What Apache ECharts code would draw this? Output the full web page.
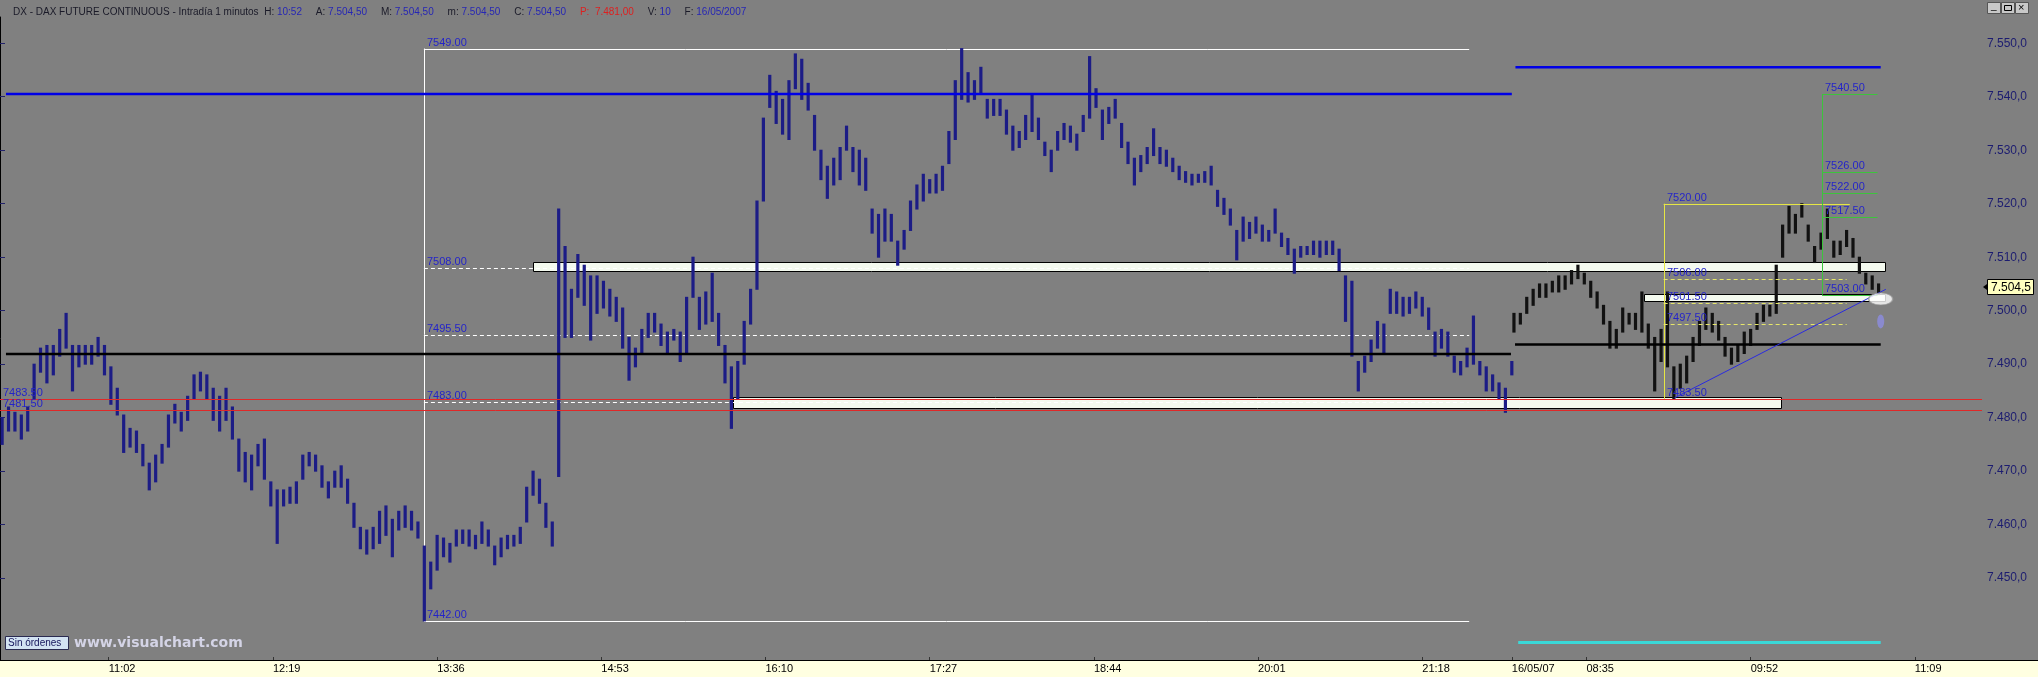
<!DOCTYPE html>
<html>
<head>
<meta charset="utf-8">
<script src="https://cdn.jsdelivr.net/npm/echarts@6/dist/echarts.min.js"></script>
<style>
    html, body { margin: 0; padding: 0; background: #808080; }
    #strip { position: absolute; left: 0; top: 660px; width: 2038px; height: 17px; background: #ffffe1; border-top: 1px solid #000; box-sizing: border-box; }
    #chart_main { position: absolute; left: 0; top: 0; width: 2038px; height: 677px; }
</style>
</head>
<body>
<div id="strip"></div>
<div id="chart_main"></div>
<script>
// x = minute index of the session (10:11 = 0, day 2 opens at 709), bars aggregated per 3 minutes
var day1Start = 0;
var day2Start = 709;

var xTickIndex = [51, 128, 205, 282, 359, 436, 513, 590, 667, 709, 744, 821, 898];
var xTickLabels = ['11:02', '12:19', '13:36', '14:53', '16:10', '17:27', '18:44', '20:01', '21:18', '16/05/07', '08:35', '09:52', '11:09'];
var yTickValues = [7450, 7460, 7470, 7480, 7490, 7500, 7510, 7520, 7530, 7540, 7550];

var day1High = [
    7480, 7482, 7481, 7480.5, 7482, 7490, 7493, 7493.5, 7493.5, 7496.5,
    7499.5, 7493.5, 7493.5, 7493.5, 7493.5, 7495, 7493.5, 7489.5, 7485.5, 7480.5,
    7478, 7477.5, 7475, 7471.5, 7473, 7475, 7480.5, 7482.5, 7481, 7484,
    7488, 7488.5, 7488, 7485.5, 7484, 7485.5, 7482, 7476, 7473.5, 7473,
    7475, 7476, 7468, 7466.5, 7466.5, 7467, 7468, 7473, 7473.5, 7473,
    7471, 7468, 7470, 7471, 7468.5, 7464, 7459.5, 7459, 7459.5, 7462.5,
    7463.5, 7461, 7462.5, 7463.5, 7462.5, 7460.5, 7456, 7453, 7458, 7457.5,
    7456.5, 7459, 7459, 7459, 7458, 7460.5, 7459, 7456, 7457.5, 7458,
    7458, 7459.5, 7467, 7470, 7468.5, 7464, 7460.5, 7519, 7512, 7504,
    7510.5, 7508.5, 7506.5, 7506.5, 7505.5, 7504, 7502.5, 7500.5, 7495, 7493,
    7496.5, 7499.5, 7499.5, 7497.5, 7496, 7496.5, 7496, 7502.5, 7510, 7502.5,
    7503.5, 7507, 7499.5, 7493.5, 7489.5, 7490.5, 7498, 7504, 7520.5, 7536,
    7544, 7541, 7539.5, 7543, 7548, 7547, 7542.5, 7536.5, 7530, 7527,
    7528.5, 7530.5, 7534.5, 7530.5, 7530, 7528.5, 7519, 7518, 7519, 7518,
    7513, 7515, 7520.5, 7523.5, 7525.5, 7524.5, 7525.5, 7527, 7533.5, 7543,
    7549, 7544.5, 7543, 7545.5, 7539.5, 7539.5, 7539.5, 7537.5, 7534.5, 7533.5,
    7536.5, 7540.5, 7536, 7531.5, 7530, 7533.5, 7535, 7534.5, 7533, 7536.5,
    7547.5, 7541.5, 7537.5, 7538, 7539.5, 7535, 7531.5, 7528.5, 7529, 7530.5,
    7534, 7530.5, 7530, 7528.5, 7527, 7526, 7525.5, 7525.5, 7526, 7527,
    7522.5, 7521, 7519, 7515, 7517.5, 7516.5, 7517.5, 7516, 7515, 7519,
    7514.5, 7513.5, 7511.5, 7512, 7512, 7513, 7513, 7513, 7513, 7511.5,
    7506.5, 7505.5, 7490.5, 7491.5, 7494.5, 7498, 7497.5, 7504, 7503.5, 7502.5,
    7502.5, 7503.5, 7502.5, 7500.5, 7496, 7496.5, 7496, 7491.5, 7490.5, 7493,
    7499, 7490.5, 7489.5, 7488, 7486.5, 7485.5, 7490.5
];
var day1Low = [
    7475, 7477.5, 7477.5, 7476, 7477.5, 7483.5, 7488.5, 7486.5, 7488, 7491.5,
    7493, 7485, 7489.5, 7490, 7490, 7491.5, 7488, 7482.5, 7480.5, 7473.5,
    7474.5, 7473.5, 7471, 7466.5, 7468, 7471.5, 7474.5, 7479, 7477.5, 7479.5,
    7483.5, 7485, 7483.5, 7479.5, 7477.5, 7479.5, 7476, 7470, 7468, 7466.5,
    7471, 7468.5, 7463.5, 7456.5, 7463.5, 7464, 7464, 7468.5, 7471, 7470,
    7467, 7465, 7467, 7467, 7464, 7459.5, 7455.5, 7454.5, 7455.5, 7456.5,
    7458, 7454, 7459, 7459.5, 7459, 7457.5, 7442, 7448, 7451.5, 7454,
    7453, 7456, 7456.5, 7456, 7455.5, 7456.5, 7456, 7452.5, 7454, 7455.5,
    7456, 7456.5, 7460.5, 7465.5, 7464, 7459.5, 7456, 7469, 7495, 7495,
    7502.5, 7501, 7494.5, 7499.5, 7500.5, 7499, 7498, 7493, 7487, 7489.5,
    7492, 7495, 7496, 7493.5, 7492, 7494.5, 7490.5, 7492, 7502.5, 7496.5,
    7497.5, 7498, 7493.5, 7486.5, 7478, 7483.5, 7490, 7497.5, 7504, 7520.5,
    7538, 7535, 7533, 7532, 7541.5, 7539.5, 7537.5, 7530, 7524.5, 7521,
    7523.5, 7524.5, 7530, 7526, 7523.5, 7522.5, 7514.5, 7510, 7513, 7513,
    7508.5, 7511.5, 7515, 7519, 7520.5, 7522, 7522, 7522.5, 7527.5, 7532,
    7539.5, 7539, 7539.5, 7540.5, 7536, 7536.5, 7536.5, 7533, 7530, 7530.5,
    7532, 7533.5, 7532, 7529, 7526, 7530, 7532, 7531.5, 7530, 7533.5,
    7536, 7538, 7532, 7535, 7536, 7530.5, 7527.5, 7523.5, 7526, 7527.5,
    7529, 7527.5, 7527, 7526, 7524.5, 7524, 7523.5, 7524, 7524, 7523.5,
    7519.5, 7518, 7516, 7509.5, 7513, 7513.5, 7514.5, 7513, 7513, 7514.5,
    7512, 7510.5, 7507, 7510, 7510.5, 7510.5, 7510, 7510.5, 7510.5, 7507.5,
    7498, 7491.5, 7485, 7488.5, 7490.5, 7493, 7492, 7499.5, 7499.5, 7499,
    7499.5, 7500.5, 7499, 7496.5, 7491.5, 7493, 7491.5, 7488.5, 7488, 7489.5,
    7490, 7488, 7485, 7485, 7483.5, 7481, 7488
];
var day2High = [
    7499.5, 7499.5, 7502.5, 7504, 7505, 7505, 7505.5, 7506.5, 7506.5, 7507.5,
    7508.5, 7507, 7505.5, 7503.5, 7501, 7498, 7496.5, 7500.5, 7499.5, 7499.5,
    7503.5, 7497.5, 7495, 7496.5, 7503.5, 7489.5, 7490, 7491.5, 7495, 7498,
    7500.5, 7499.5, 7498, 7495, 7493, 7493.5, 7496, 7496.5, 7499.5, 7501,
    7501, 7508.5, 7516, 7519.5, 7518, 7520, 7516, 7512, 7514.5, 7519,
    7513, 7513, 7515, 7513.5, 7510, 7507, 7506.5, 7505
];
var day2Low = [
    7496, 7497.5, 7499.5, 7501, 7502.5, 7502.5, 7503.5, 7503.5, 7504, 7505,
    7506, 7505, 7502.5, 7500.5, 7497.5, 7493, 7493, 7496, 7497.5, 7496.5,
    7496, 7493, 7485, 7490.5, 7489.5, 7483.5, 7485.5, 7486.5, 7490.5, 7493.5,
    7496.5, 7496, 7494.5, 7491.5, 7490, 7490.5, 7492, 7493.5, 7496.5, 7498,
    7499, 7499.5, 7510, 7514.5, 7514.5, 7517.5, 7513, 7509, 7511.5, 7513.5,
    7510, 7510.5, 7512, 7510, 7507, 7505, 7504, 7503
];

// drawn studies: [fromIndex, toIndex, price]
var blueLevels = [[2.8, 709, 7540.5], [710.7, 882, 7545.5]];
var blackLevels = [[2.8, 708.6, 7491.9], [710.5, 882, 7493.7]];
var redLevels = [7483.5, 7481.5];
var cyanLevels = [[712, 882, 7438]];
// zones: [fromIndex, toIndex, low, high]
var zones = [[250, 884, 7507.5, 7509.1], [771, 884, 7501.8, 7503.2], [343.7, 835, 7481.9, 7483.9]];
var whiteFrameSpan = [198.8, 689];
var whiteFrameLevels = [7549, 7508, 7495.5, 7483, 7442];
var yellowFrameSpan = [780.2, 867.5];
var yellowFrameLevels = [7520, 7506, 7501.5, 7497.5, 7483.5];
var greenFrameSpan = [854.5, 880.5];
var greenFrameLevels = [7540.5, 7526, 7522, 7517.5, 7503];
var trendLine = [[785.3, 7483.7], [884.4, 7504.0]];
var lastBar = [882, 7502.2];
var lastPrice = 7504.5;

var FONT = 'Liberation Sans';

function fmtPrice(v) {
    var s = v.toFixed(1).replace('.', ',');
    return s.slice(0, s.length - 5) + '.' + s.slice(-5);
}

function crisp(v) { return Math.round(v) + 0.5; }

function barSeries(start, highs, lows, color) {
    return {
        type: 'custom', z: 3, silent: true,
        data: highs.map(function (h, k) { return [start + k * 3 + 1, lows[k], h]; }),
        encode: {x: 0, y: [1, 2]},
        renderItem: function (params, api) {
            var a = api.coord([api.value(0), api.value(1)]);
            var b = api.coord([api.value(0), api.value(2)]);
            return {type: 'line', shape: {x1: a[0], y1: a[1] + 0.5, x2: b[0], y2: b[1] - 0.5},
                style: {stroke: color, lineWidth: 3.2}};
        }
    };
}

// segments [x1, y1, x2, y2]
function segSeries(segs, style, z) {
    return {
        type: 'custom', z: z, silent: true, data: segs,
        encode: {x: [0, 2], y: [1, 3]},
        renderItem: function (params, api) {
            var a = api.coord([api.value(0), api.value(1)]);
            var b = api.coord([api.value(2), api.value(3)]);
            var w = style.lineWidth || 1;
            var x1 = a[0], x2 = b[0], y1 = a[1], y2 = b[1];
            if (y1 === y2 && w % 2 === 1) { y1 = y2 = crisp(y1); }
            if (x1 === x2 && w % 2 === 1) { x1 = x2 = crisp(x1); }
            return {type: 'line', shape: {x1: x1, y1: y1, x2: x2, y2: y2}, style: style};
        }
    };
}

function hSegs(list) {
    return list.map(function (s) { return [s[0], s[2], s[1], s[2]]; });
}

var whiteSolid = [[whiteFrameSpan[0], whiteFrameLevels[0], whiteFrameSpan[0], whiteFrameLevels[4]]].concat(
    [whiteFrameLevels[0], whiteFrameLevels[4]].map(function (lv) { return [whiteFrameSpan[0], lv, whiteFrameSpan[1], lv]; }));
var whiteDash = whiteFrameLevels.slice(1, 4).map(function (lv) { return [whiteFrameSpan[0], lv, whiteFrameSpan[1], lv]; });
var yellowSolid = [[yellowFrameSpan[0], yellowFrameLevels[0], yellowFrameSpan[0], yellowFrameLevels[4]]].concat(
    [yellowFrameLevels[0], yellowFrameLevels[4]].map(function (lv) { return [yellowFrameSpan[0], lv, yellowFrameSpan[1], lv]; }));
var yellowDash = yellowFrameLevels.slice(1, 4).map(function (lv) { return [yellowFrameSpan[0], lv, yellowFrameSpan[1] - 1.5, lv]; });
var greenSolid = [[greenFrameSpan[0], greenFrameLevels[0], greenFrameSpan[0], greenFrameLevels[4]]].concat(
    greenFrameLevels.map(function (lv) { return [greenFrameSpan[0], lv, greenFrameSpan[1], lv]; }));

// level labels: position = [index, price], text from the price
var labelPoints = [];
var labelTexts = [];
function addLabels(x, levels) {
    levels.forEach(function (lv) { labelPoints.push([x, lv]); labelTexts.push(lv.toFixed(2)); });
}
addLabels(0, redLevels);
addLabels(whiteFrameSpan[0], whiteFrameLevels);
addLabels(yellowFrameSpan[0], yellowFrameLevels);
addLabels(greenFrameSpan[0], greenFrameLevels);

var series = [
    {
        type: 'custom', z: 1, silent: true, data: zones,
        encode: {x: [0, 1], y: [2, 3]},
        renderItem: function (params, api) {
            var a = api.coord([api.value(0), api.value(3)]);
            var b = api.coord([api.value(1), api.value(2)]);
            return {type: 'rect',
                shape: {x: crisp(a[0]), y: crisp(a[1]), width: Math.round(b[0] - a[0]), height: Math.round(b[1] - a[1])},
                style: {fill: '#f4faef', stroke: '#000', lineWidth: 1}};
        }
    },
    segSeries(whiteSolid, {stroke: '#ffffff', lineWidth: 1}, 2),
    segSeries(whiteDash, {stroke: '#ffffff', lineWidth: 1, lineDash: [4, 3]}, 2),
    barSeries(day1Start, day1High, day1Low, '#1c1c86'),
    barSeries(day2Start, day2High, day2Low, '#111111'),
    segSeries(yellowSolid, {stroke: '#e6e644', lineWidth: 1}, 4),
    segSeries(yellowDash, {stroke: '#e6e66a', lineWidth: 1, lineDash: [4, 3]}, 4),
    segSeries(greenSolid, {stroke: '#3cc43c', lineWidth: 1}, 4),
    segSeries(hSegs(redLevels.map(function (p) { return [0, 929.5, p]; })), {stroke: '#e02828', lineWidth: 1}, 4),
    segSeries(hSegs(blueLevels), {stroke: '#0000e6', lineWidth: 2.5}, 4),
    segSeries(hSegs(blackLevels), {stroke: '#000000', lineWidth: 2.5}, 4),
    segSeries(hSegs(cyanLevels), {stroke: '#3ad8d8', lineWidth: 3}, 4),
    segSeries([[trendLine[0][0], trendLine[0][1], trendLine[1][0], trendLine[1][1]]], {stroke: '#2a2ae0', lineWidth: 1}, 4),
    {
        type: 'scatter', z: 5, silent: true, data: [lastBar],
        symbol: 'circle', symbolSize: [24, 12],
        itemStyle: {color: '#ffffff', borderColor: '#9a9a9a', borderWidth: 1}
    },
    {
        type: 'scatter', z: 5, silent: true, data: [[lastBar[0], 7498]],
        symbol: 'circle', symbolSize: [7, 14],
        itemStyle: {color: '#8c8cdc', opacity: 0.85}
    },
    {
        type: 'custom', z: 6, silent: true, data: labelPoints,
        encode: {x: 0, y: 1},
        renderItem: function (params, api) {
            var p = api.coord([api.value(0), api.value(1)]);
            return {type: 'text', x: Math.round(p[0]) + 3, y: Math.round(p[1]) - 1,
                style: {text: labelTexts[params.dataIndex], fill: '#2424c8', fontSize: 11, fontFamily: FONT,
                    align: 'left', verticalAlign: 'bottom'}};
        }
    }
];

var GAP = '     ';
var option = {
    animation: false,
    backgroundColor: 'transparent',
    title: {
        left: 8, top: 2,
        text: '{d|DX - DAX FUTURE CONTINUOUS - Intradía 1 minutos  H:} {b|10:52}' + GAP + '{d|A:} {b|7.504,50}' + GAP +
            '{d|M:} {b|7.504,50}' + GAP + '{d|m:} {b|7.504,50}' + GAP + '{d|C:} {b|7.504,50}' + GAP +
            '{r|P:  7.481,00}' + GAP + '{d|V:} {b|10}' + GAP + '{d|F:} {b|16/05/2007}',
        textStyle: {
            fontSize: 10, fontFamily: FONT, fontWeight: 'normal',
            rich: {
                d: {color: '#1a1a28', fontSize: 10, fontFamily: FONT},
                b: {color: '#2626b4', fontSize: 10, fontFamily: FONT},
                r: {color: '#dc2020', fontSize: 10, fontFamily: FONT}
            }
        }
    },
    grid: {left: 0, right: 56, top: 17, bottom: 17},
    xAxis: {
        type: 'value', min: 0, max: 929.5,
        splitLine: {show: false},
        axisLine: {show: true, lineStyle: {color: '#000', width: 1}},
        axisTick: {show: true, inside: true, length: 3, customValues: xTickIndex, lineStyle: {color: '#333'}},
        axisLabel: {
            customValues: xTickIndex, align: 'left', margin: 3,
            color: '#000', fontSize: 11, fontFamily: FONT,
            formatter: function (v) { return xTickLabels[xTickIndex.indexOf(v)]; }
        }
    },
    yAxis: {
        type: 'value', position: 'right', min: 7434.7, max: 7554.9,
        splitLine: {show: false},
        axisLine: {show: true, lineStyle: {color: '#000', width: 1}},
        axisTick: {show: true, length: 5, customValues: yTickValues, lineStyle: {color: '#22226a'}},
        axisLabel: {
            customValues: yTickValues, margin: 5,
            color: '#1c1c70', fontSize: 12, fontFamily: FONT,
            formatter: function (v) { return fmtPrice(v); }
        }
    },
    series: series
};

var myChart = echarts.init(document.getElementById('chart_main'));
myChart.setOption(option);

var py = Math.round(myChart.convertToPixel({yAxisIndex: 0}, lastPrice));
myChart.setOption({
    graphic: [
        {type: 'polygon', shape: {points: [[1983, py], [1987, py - 3], [1987, py + 3]]}, style: {fill: '#000'}, z: 10},
        {type: 'rect', shape: {x: 1987.5, y: py - 7.5, width: 46, height: 15}, style: {fill: '#ffffc0', stroke: '#000', lineWidth: 1}, z: 10},
        {type: 'text', x: 1991, y: py + 1, style: {text: fmtPrice(lastPrice), fill: '#000', fontSize: 12, fontFamily: FONT, verticalAlign: 'middle'}, z: 11},
        // window buttons
        {type: 'rect', shape: {x: 1987.5, y: 2.5, width: 13, height: 11}, style: {fill: '#c8c8c8', stroke: '#555', lineWidth: 1}, z: 10},
        {type: 'rect', shape: {x: 2001.5, y: 2.5, width: 13, height: 11}, style: {fill: '#c8c8c8', stroke: '#555', lineWidth: 1}, z: 10},
        {type: 'rect', shape: {x: 2015.5, y: 2.5, width: 13, height: 11}, style: {fill: '#c8c8c8', stroke: '#555', lineWidth: 1}, z: 10},
        {type: 'text', x: 1991, y: 1, style: {text: '_', fill: '#000', fontSize: 10, fontFamily: FONT}, z: 11},
        {type: 'rect', shape: {x: 2004.5, y: 5.5, width: 7, height: 5}, style: {fill: 'none', stroke: '#000', lineWidth: 1}, z: 11},
        {type: 'text', x: 2018, y: 2, style: {text: '×', fill: '#000', fontSize: 11, fontFamily: FONT}, z: 11},
        // order status box and watermark
        {type: 'rect', shape: {x: 5.5, y: 636.5, width: 63, height: 13}, style: {fill: '#d2e2f2', stroke: '#2a2a50', lineWidth: 1}, z: 10},
        {type: 'text', x: 8, y: 643, style: {text: 'Sin órdenes', fill: '#14145a', fontSize: 10, fontFamily: FONT, verticalAlign: 'middle'}, z: 11},
        {type: 'text', x: 74, y: 643, style: {text: 'www.visualchart.com', fill: '#d4d4e6', fontSize: 14, fontWeight: 'bold', fontFamily: 'DejaVu Sans', verticalAlign: 'middle'}, z: 11}
    ]
});
</script>
</body>
</html>
